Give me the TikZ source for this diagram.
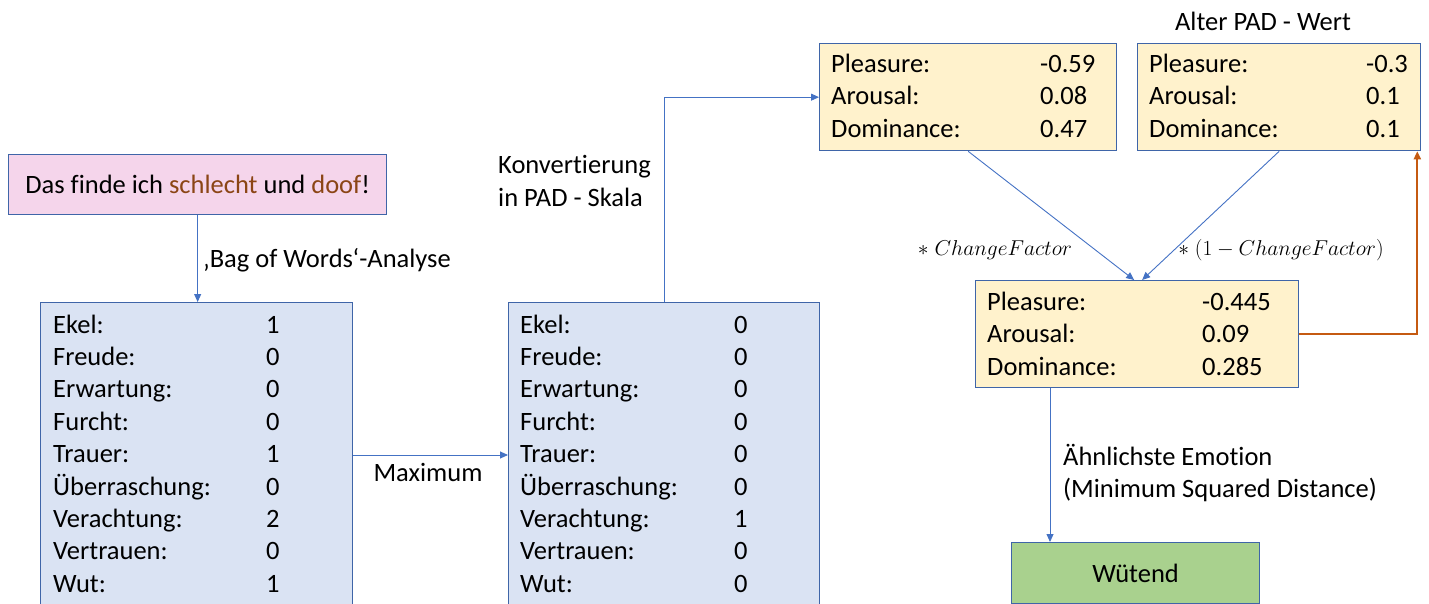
\documentclass[tikz,border=0pt]{standalone}
\usepackage{fix-cm}
\usepackage{fontspec}
\setmainfont{Carlito}[Ligatures={NoCommon}]
\usetikzlibrary{arrows.meta}
\definecolor{boxline}{HTML}{3F65A8}
\definecolor{conn}{HTML}{4472C4}
\definecolor{pinkfill}{HTML}{F5D5EB}
\definecolor{bluefill}{HTML}{DAE3F3}
\definecolor{yellowfill}{HTML}{FFF2CC}
\definecolor{greenfill}{HTML}{A9D18E}
\definecolor{brownword}{HTML}{8B4515}
\definecolor{orangeline}{HTML}{C55A11}
\tikzset{
  box/.style={draw=boxline, line width=1.3pt, rectangle, anchor=north west, inner sep=0pt},
  txt/.style={inner sep=0pt, font=\fontsize{26.5}{32.5}\selectfont, text=black},
  rowl/.style={txt, anchor=base west},
  conn/.style={draw=conn, line width=0.9pt, -{Triangle[length=8pt,width=7pt]}},
  orangeconn/.style={draw=orangeline, line width=2pt, -{Triangle[length=8pt,width=7pt]}},
  mathlbl/.style={inner sep=0pt, font=\fontsize{21.5}{25}\selectfont, text=black}
}
\begin{document}
\begin{tikzpicture}[x=1pt,y=-1pt]
\useasboundingbox (0,0) rectangle (1429,603);

% input sentence
\node[box, fill=pinkfill, minimum width=378pt, minimum height=60pt] (pink) at (8,154) {};
\node[txt] (sent) at (pink.center) {Das finde ich \textcolor{brownword}{schlecht} und \textcolor{brownword}{doof}!};

% bag of words box
\node[box, fill=bluefill, minimum width=312pt, minimum height=330pt] (bow) at (40,302) {};
\foreach \l/\v [count=\i] in {Ekel/1,Freude/0,Erwartung/0,Furcht/0,Trauer/1,Überraschung/0,Verachtung/2,Vertrauen/0,Wut/1}{
  \node[rowl] (bowl\i) at (53,{333+32.4*(\i-1)}) {\l:};
  \node[rowl] (bowv\i) at (266,{333+32.4*(\i-1)}) {\v};
}

% maximum box
\node[box, fill=bluefill, minimum width=311pt, minimum height=330pt] (mx) at (508,302) {};
\foreach \l/\v [count=\i] in {Ekel/0,Freude/0,Erwartung/0,Furcht/0,Trauer/0,Überraschung/0,Verachtung/1,Vertrauen/0,Wut/0}{
  \node[rowl] (mxl\i) at (520,{333+32.4*(\i-1)}) {\l:};
  \node[rowl] (mxv\i) at (734,{333+32.4*(\i-1)}) {\v};
}

% PAD new
\node[box, fill=yellowfill, minimum width=297pt, minimum height=107pt] (pad1) at (819,43) {};
\foreach \l/\v [count=\i] in {Pleasure/-0.59,Arousal/0.08,Dominance/0.47}{
  \node[rowl] (p1l\i) at (831,{72+32.5*(\i-1)}) {\l:};
  \node[rowl] (p1v\i) at (1040,{72+32.5*(\i-1)}) {\v};
}

% PAD old
\node[box, fill=yellowfill, minimum width=283pt, minimum height=107pt] (pad2) at (1137,43) {};
\foreach \l/\v [count=\i] in {Pleasure/-0.3,Arousal/0.1,Dominance/0.1}{
  \node[rowl] (p2l\i) at (1149,{72+32.5*(\i-1)}) {\l:};
  \node[rowl] (p2v\i) at (1366,{72+32.5*(\i-1)}) {\v};
}
\node[txt] (alt) at (1263,21) {Alter PAD - Wert};

% PAD result
\node[box, fill=yellowfill, minimum width=323pt, minimum height=107pt] (pad3) at (975,280) {};
\foreach \l/\v [count=\i] in {Pleasure/-0.445,Arousal/0.09,Dominance/0.285}{
  \node[rowl] (p3l\i) at (987,{310+32.5*(\i-1)}) {\l:};
  \node[rowl] (p3v\i) at (1202,{310+32.5*(\i-1)}) {\v};
}

% result emotion
\node[box, fill=greenfill, minimum width=248pt, minimum height=61pt] (wut) at (1011,542) {};
\node[txt] (wutt) at (wut.center) {Wütend};

% connectors
\draw[conn] (pink.south) -- (pink.south |- bow.north);
\node[txt, anchor=west] (bowlbl) at (203,260) {‚Bag of Words‘-Analyse};

\coordinate (maxy) at (0,455);
\draw[conn] (bow.east |- maxy) -- (mx.west |- maxy);
\node[txt] (maxlbl) at (428,472) {Maximum};

\draw[conn] (mx.north) |- (pad1.west);
\node[txt, anchor=west, align=left] (konv) at (498,181) {Konvertierung\\in PAD - Skala};

\draw[conn] (pad1.south) -- ([xshift=-3pt]pad3.north);
\draw[conn] (pad2.south) -- ([xshift=5pt]pad3.north);
\node[mathlbl] (cf1) at (995,250) {$\ast\;ChangeFactor$};
\node[mathlbl] (cf2) at (1281,250) {$\ast\;(1-ChangeFactor)$};

\draw[orangeconn] (pad3.east) -| ([xshift=-4pt]pad2.south east);

\coordinate (downx) at (1050,0);
\draw[conn] (pad3.south -| downx) -- (wut.north -| downx);
\node[txt, anchor=west, align=left] (aehn) at (1063,473) {Ähnlichste Emotion\\(Minimum Squared Distance)};
\end{tikzpicture}
\end{document}
